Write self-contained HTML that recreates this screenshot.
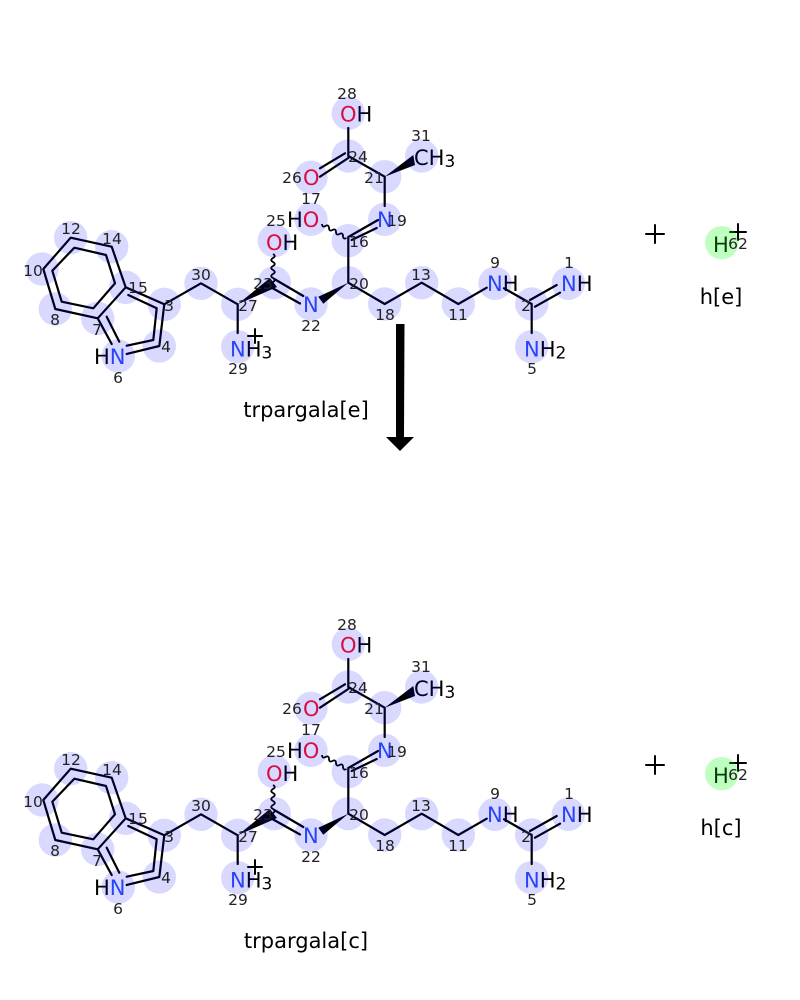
<!DOCTYPE html>
<html><head><meta charset="utf-8"><style>
html,body{margin:0;padding:0;background:#fff}
svg{display:block}
text{font-family:"DejaVu Sans","Liberation Sans",sans-serif}
.b{stroke:#000;stroke-width:2.2;fill:none;stroke-linecap:round;stroke-linejoin:round}
.w{stroke:#000;stroke-width:1.8;fill:none}
.a{font-size:21px}.i{font-size:15.500px;text-anchor:middle;fill:#222}
.l{font-size:21px;text-anchor:middle}
.N{fill:#3050f8}.O{fill:#ff1220}
.c{fill:rgba(0,0,255,.15)}
.s{font-size:17px}
</style></head><body>
<svg width="800" height="1000" viewBox="0 0 800 1000" xmlns="http://www.w3.org/2000/svg">
<g>
<path class="b" d="M70.7 237.7L111.7 246.7L125.7 287.3L97.7 318.3L55.3 309L43.3 269ZM74.3 247.7L106 255L115 283.3L93.300 308.3L61.7 301.7L52.3 270.7ZM125.7 287.3L164.3 304.3L159.3 346L126.7 354M128.3 295L156.7 308.3L153.3 340L126.7 345.7M97.7 318.3L111.7 344M106.7 316.7L119.3 341.7M164.3 304.3L201 283.3L237.7 304.3V333M274.3 279L303.3 296M270.5 287L300 303.500M348.3 128V156M320 168.3L345 153.3M320 176.7L348.3 158M348.3 156L384.7 176.7V206M348.3 237L378 220M351.7 240L376.7 228M348.3 238V282.7L384.7 304L421.7 282.7L458.3 304L486.7 287.7M504 288.3L531.7 304V333M530 300L556.7 285M535 306.7L560 292.7"/>
<path d="M237.7 304.3L270 278L277 287ZM348.3 282.7L318.3 296.7L323.3 303.7ZM384.7 176.7L413.3 155L415 165Z" fill="#000"/>
<path class="w" d="M273 254q3.500 2 0 4t0 4t0 4t0 4t0 4t0 4t0 4M322 224q.15 3.800 3.500 2t3.500 2t3.500 2t3.500 2t3.500 2t3.500 2t3.500 2"/>
<text class="a" x="340" y="121.500"><tspan class="O">O</tspan>H</text>
<text class="a" x="303" y="185" style="fill:#ff1220">O</text>
<text class="a" x="287" y="227">H<tspan class="O">O</tspan></text>
<text class="a" x="266" y="250"><tspan class="O">O</tspan>H</text>
<text class="a" x="377" y="227" style="fill:#3050f8">N</text>
<text class="a" x="303" y="312" style="fill:#3050f8">N</text>
<text class="a" x="414" y="165">CH<tspan class="s" dy="2">3</tspan></text>
<text class="a" x="94" y="364">H<tspan class="N">N</tspan></text>
<text class="a" x="230" y="356.500"><tspan class="N">N</tspan>H<tspan class="s" dy="2">3</tspan></text>
<text class="a" x="487" y="291"><tspan class="N">N</tspan>H</text>
<text class="a" x="561" y="291"><tspan class="N">N</tspan>H</text>
<text class="a" x="524" y="356.500"><tspan class="N">N</tspan>H<tspan class="s" dy="2">2</tspan></text>
<text class="a" x="713" y="252">H</text>
<path class="b" d="M255 329V343M248 336H262M730 232H746M738 224V240M646 234H664M655 225V243" style="stroke-width:2"/>
<g class="c"><circle cx="348.3" cy="113.3" r="16.7"/><circle cx="348.3" cy="156" r="16.7"/><circle cx="311" cy="177.3" r="16.7"/><circle cx="384.7" cy="176.7" r="16.7"/><circle cx="421.7" cy="156" r="16.7"/><circle cx="384.7" cy="219.3" r="16.7"/><circle cx="348.3" cy="240.7" r="16.7"/><circle cx="311" cy="219.3" r="16.7"/><circle cx="348.3" cy="282.7" r="16.7"/><circle cx="311" cy="304" r="16.7"/><circle cx="384.7" cy="304" r="16.7"/><circle cx="421.7" cy="282.7" r="16.7"/><circle cx="274.3" cy="240.7" r="16.7"/><circle cx="274.3" cy="282.7" r="16.7"/><circle cx="458.3" cy="304" r="16.7"/><circle cx="495" cy="283.3" r="16.7"/><circle cx="531.7" cy="304" r="16.7"/><circle cx="568.3" cy="283.3" r="16.7"/><circle cx="531.7" cy="346.7" r="16.7"/><circle cx="42" cy="269" r="16.7"/><circle cx="70.7" cy="237.7" r="16.7"/><circle cx="111.7" cy="246.7" r="16.7"/><circle cx="125.7" cy="287.3" r="16.7"/><circle cx="97.7" cy="318.3" r="16.7"/><circle cx="55.3" cy="309" r="16.7"/><circle cx="164.3" cy="304.3" r="16.7"/><circle cx="159.3" cy="346" r="16.7"/><circle cx="118.3" cy="356" r="16.7"/><circle cx="201" cy="283.3" r="16.7"/><circle cx="237.7" cy="304.3" r="16.7"/><circle cx="237.7" cy="346.7" r="16.7"/></g>
<circle cx="721.7" cy="242.7" r="16.7" fill="rgba(0,255,0,.25)"/>
<g>
<text class="i" x="347" y="99">28</text><text class="i" x="421" y="141">31</text><text class="i" x="292" y="183">26</text><text class="i" x="358" y="162">24</text><text class="i" x="374" y="183">21</text><text class="i" x="311" y="204">17</text><text class="i" x="276" y="226">25</text><text class="i" x="397" y="226">19</text><text class="i" x="359" y="247">16</text><text class="i" x="263" y="289">23</text><text class="i" x="359" y="289">20</text><text class="i" x="311" y="331">22</text><text class="i" x="385" y="320">18</text><text class="i" x="421" y="280">13</text><text class="i" x="458" y="320">11</text><text class="i" x="495" y="268">9</text><text class="i" x="569" y="268">1</text><text class="i" x="526" y="311">2</text><text class="i" x="532" y="374">5</text><text class="i" x="201" y="280">30</text><text class="i" x="248" y="311">27</text><text class="i" x="238" y="374">29</text><text class="i" x="169" y="311">3</text><text class="i" x="166" y="352">4</text><text class="i" x="138" y="293">15</text><text class="i" x="97" y="335">7</text><text class="i" x="55" y="325">8</text><text class="i" x="33" y="276">10</text><text class="i" x="71" y="234">12</text><text class="i" x="112" y="244">14</text><text class="i" x="118" y="383">6</text><text class="i" x="738" y="249">62</text>
</g>
<text class="l" x="306" y="417">trpargala[e]</text>
<text class="l" x="721" y="304">h[e]</text>
</g>
<path d="M396 324H404.500L404 437H414L400 451L386 437H396Z" fill="#000"/>
<g transform="translate(0,531)">
<path class="b" d="M70.7 237.7L111.7 246.7L125.7 287.3L97.7 318.3L55.3 309L43.3 269ZM74.3 247.7L106 255L115 283.3L93.300 308.3L61.7 301.7L52.3 270.7ZM125.7 287.3L164.3 304.3L159.3 346L126.7 354M128.3 295L156.7 308.3L153.3 340L126.7 345.7M97.7 318.3L111.7 344M106.7 316.7L119.3 341.7M164.3 304.3L201 283.3L237.7 304.3V333M274.3 279L303.3 296M270.5 287L300 303.500M348.3 128V156M320 168.3L345 153.3M320 176.7L348.3 158M348.3 156L384.7 176.7V206M348.3 237L378 220M351.7 240L376.7 228M348.3 238V282.7L384.7 304L421.7 282.7L458.3 304L486.7 287.7M504 288.3L531.7 304V333M530 300L556.7 285M535 306.7L560 292.7"/>
<path d="M237.7 304.3L270 278L277 287ZM348.3 282.7L318.3 296.7L323.3 303.7ZM384.7 176.7L413.3 155L415 165Z" fill="#000"/>
<path class="w" d="M273 254q3.500 2 0 4t0 4t0 4t0 4t0 4t0 4t0 4M322 224q.15 3.800 3.500 2t3.500 2t3.500 2t3.500 2t3.500 2t3.500 2t3.500 2"/>
<text class="a" x="340" y="121.500"><tspan class="O">O</tspan>H</text>
<text class="a" x="303" y="185" style="fill:#ff1220">O</text>
<text class="a" x="287" y="227">H<tspan class="O">O</tspan></text>
<text class="a" x="266" y="250"><tspan class="O">O</tspan>H</text>
<text class="a" x="377" y="227" style="fill:#3050f8">N</text>
<text class="a" x="303" y="312" style="fill:#3050f8">N</text>
<text class="a" x="414" y="165">CH<tspan class="s" dy="2">3</tspan></text>
<text class="a" x="94" y="364">H<tspan class="N">N</tspan></text>
<text class="a" x="230" y="356.500"><tspan class="N">N</tspan>H<tspan class="s" dy="2">3</tspan></text>
<text class="a" x="487" y="291"><tspan class="N">N</tspan>H</text>
<text class="a" x="561" y="291"><tspan class="N">N</tspan>H</text>
<text class="a" x="524" y="356.500"><tspan class="N">N</tspan>H<tspan class="s" dy="2">2</tspan></text>
<text class="a" x="713" y="252">H</text>
<path class="b" d="M255 329V343M248 336H262M730 232H746M738 224V240M646 234H664M655 225V243" style="stroke-width:2"/>
<g class="c"><circle cx="348.3" cy="113.3" r="16.7"/><circle cx="348.3" cy="156" r="16.7"/><circle cx="311" cy="177.3" r="16.7"/><circle cx="384.7" cy="176.7" r="16.7"/><circle cx="421.7" cy="156" r="16.7"/><circle cx="384.7" cy="219.3" r="16.7"/><circle cx="348.3" cy="240.7" r="16.7"/><circle cx="311" cy="219.3" r="16.7"/><circle cx="348.3" cy="282.7" r="16.7"/><circle cx="311" cy="304" r="16.7"/><circle cx="384.7" cy="304" r="16.7"/><circle cx="421.7" cy="282.7" r="16.7"/><circle cx="274.3" cy="240.7" r="16.7"/><circle cx="274.3" cy="282.7" r="16.7"/><circle cx="458.3" cy="304" r="16.7"/><circle cx="495" cy="283.3" r="16.7"/><circle cx="531.7" cy="304" r="16.7"/><circle cx="568.3" cy="283.3" r="16.7"/><circle cx="531.7" cy="346.7" r="16.7"/><circle cx="42" cy="269" r="16.7"/><circle cx="70.7" cy="237.7" r="16.7"/><circle cx="111.7" cy="246.7" r="16.7"/><circle cx="125.7" cy="287.3" r="16.7"/><circle cx="97.7" cy="318.3" r="16.7"/><circle cx="55.3" cy="309" r="16.7"/><circle cx="164.3" cy="304.3" r="16.7"/><circle cx="159.3" cy="346" r="16.7"/><circle cx="118.3" cy="356" r="16.7"/><circle cx="201" cy="283.3" r="16.7"/><circle cx="237.7" cy="304.3" r="16.7"/><circle cx="237.7" cy="346.7" r="16.7"/></g>
<circle cx="721.7" cy="242.7" r="16.7" fill="rgba(0,255,0,.25)"/>
<g>
<text class="i" x="347" y="99">28</text><text class="i" x="421" y="141">31</text><text class="i" x="292" y="183">26</text><text class="i" x="358" y="162">24</text><text class="i" x="374" y="183">21</text><text class="i" x="311" y="204">17</text><text class="i" x="276" y="226">25</text><text class="i" x="397" y="226">19</text><text class="i" x="359" y="247">16</text><text class="i" x="263" y="289">23</text><text class="i" x="359" y="289">20</text><text class="i" x="311" y="331">22</text><text class="i" x="385" y="320">18</text><text class="i" x="421" y="280">13</text><text class="i" x="458" y="320">11</text><text class="i" x="495" y="268">9</text><text class="i" x="569" y="268">1</text><text class="i" x="526" y="311">2</text><text class="i" x="532" y="374">5</text><text class="i" x="201" y="280">30</text><text class="i" x="248" y="311">27</text><text class="i" x="238" y="374">29</text><text class="i" x="169" y="311">3</text><text class="i" x="166" y="352">4</text><text class="i" x="138" y="293">15</text><text class="i" x="97" y="335">7</text><text class="i" x="55" y="325">8</text><text class="i" x="33" y="276">10</text><text class="i" x="71" y="234">12</text><text class="i" x="112" y="244">14</text><text class="i" x="118" y="383">6</text><text class="i" x="738" y="249">62</text>
</g>
<text class="l" x="306" y="417">trpargala[c]</text>
<text class="l" x="721" y="304">h[c]</text>
</g>
</svg>
</body></html>
